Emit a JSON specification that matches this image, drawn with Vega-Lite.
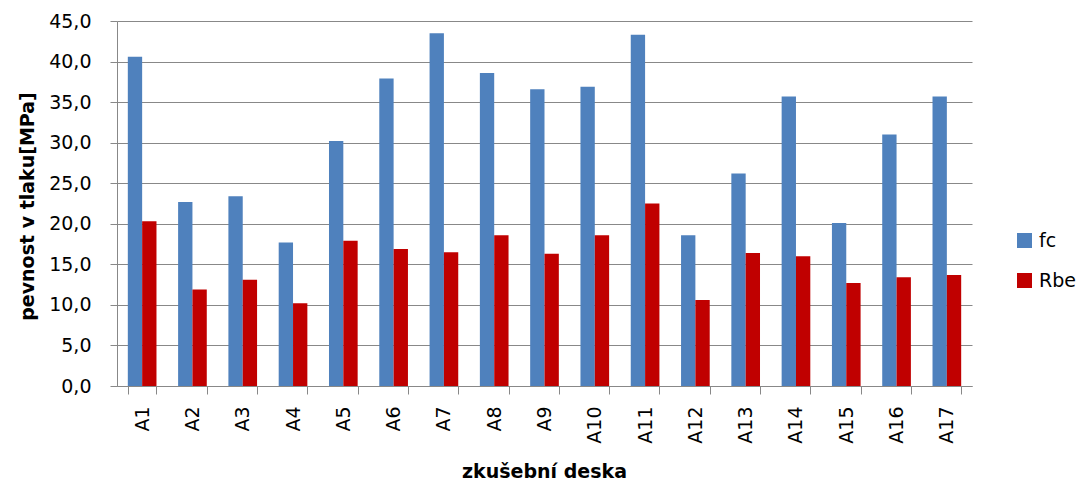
{
  "$schema": "https://vega.github.io/schema/vega-lite/v6.json",
  "width": 855,
  "height": 365,
  "autosize": {"type": "none"},
  "padding": {"left": 117, "top": 21, "right": 113, "bottom": 98},
  "background": "white",
  "config": {
    "view": {"stroke": null},
    "font": "DejaVu Sans"
  },
  "data": {
    "values": [
      {"deska": "A1", "serie": "fc", "hodnota": 40.6},
      {"deska": "A1", "serie": "Rbe", "hodnota": 20.3},
      {"deska": "A2", "serie": "fc", "hodnota": 22.7},
      {"deska": "A2", "serie": "Rbe", "hodnota": 11.9},
      {"deska": "A3", "serie": "fc", "hodnota": 23.4},
      {"deska": "A3", "serie": "Rbe", "hodnota": 13.1},
      {"deska": "A4", "serie": "fc", "hodnota": 17.7},
      {"deska": "A4", "serie": "Rbe", "hodnota": 10.2},
      {"deska": "A5", "serie": "fc", "hodnota": 30.2},
      {"deska": "A5", "serie": "Rbe", "hodnota": 17.9},
      {"deska": "A6", "serie": "fc", "hodnota": 37.9},
      {"deska": "A6", "serie": "Rbe", "hodnota": 16.9},
      {"deska": "A7", "serie": "fc", "hodnota": 43.5},
      {"deska": "A7", "serie": "Rbe", "hodnota": 16.5},
      {"deska": "A8", "serie": "fc", "hodnota": 38.6},
      {"deska": "A8", "serie": "Rbe", "hodnota": 18.6},
      {"deska": "A9", "serie": "fc", "hodnota": 36.6},
      {"deska": "A9", "serie": "Rbe", "hodnota": 16.3},
      {"deska": "A10", "serie": "fc", "hodnota": 36.9},
      {"deska": "A10", "serie": "Rbe", "hodnota": 18.6},
      {"deska": "A11", "serie": "fc", "hodnota": 43.3},
      {"deska": "A11", "serie": "Rbe", "hodnota": 22.5},
      {"deska": "A12", "serie": "fc", "hodnota": 18.6},
      {"deska": "A12", "serie": "Rbe", "hodnota": 10.6},
      {"deska": "A13", "serie": "fc", "hodnota": 26.2},
      {"deska": "A13", "serie": "Rbe", "hodnota": 16.4},
      {"deska": "A14", "serie": "fc", "hodnota": 35.7},
      {"deska": "A14", "serie": "Rbe", "hodnota": 16.0},
      {"deska": "A15", "serie": "fc", "hodnota": 20.1},
      {"deska": "A15", "serie": "Rbe", "hodnota": 12.7},
      {"deska": "A16", "serie": "fc", "hodnota": 31.0},
      {"deska": "A16", "serie": "Rbe", "hodnota": 13.4},
      {"deska": "A17", "serie": "fc", "hodnota": 35.7},
      {"deska": "A17", "serie": "Rbe", "hodnota": 13.7}
    ]
  },
  "mark": {"type": "bar"},
  "encoding": {
    "x": {
      "field": "deska",
      "type": "nominal",
      "sort": null,
      "scale": {"paddingInner": 0.43, "paddingOuter": 0.215},
      "axis": {
        "title": "zkušební deska",
        "titleFont": "DejaVu Sans",
        "titleFontSize": 19,
        "titleFontWeight": "bold",
        "titleColor": "black",
        "titleX": 427,
        "titleY": 91,
        "titleBaseline": "alphabetic",
        "labelAngle": -90,
        "labelFontSize": 19,
        "labelColor": "black",
        "labelPadding": 12,
        "tickBand": "extent",
        "tickSize": 8,
        "tickColor": "#888888",
        "domainColor": "#888888",
        "grid": false
      }
    },
    "xOffset": {
      "field": "serie",
      "type": "nominal",
      "sort": ["fc", "Rbe"],
      "scale": {"paddingInner": 0, "paddingOuter": 0}
    },
    "y": {
      "field": "hodnota",
      "type": "quantitative",
      "scale": {"domain": [0, 45], "nice": false},
      "axis": {
        "title": "pevnost v tlaku[MPa]",
        "titleFontSize": 19,
        "titleFontWeight": "bold",
        "titleColor": "black",
        "titleX": -90,
        "titleY": 185,
        "titleAlign": "center",
        "titleBaseline": "middle",
        "titleAngle": -90,
        "values": [0, 5, 10, 15, 20, 25, 30, 35, 40, 45],
        "labelExpr": "replace(format(datum.value, '.1f'), '.', ',')",
        "labelFontSize": 19,
        "labelColor": "black",
        "labelPadding": 19,
        "tickSize": 7,
        "tickColor": "#888888",
        "domainColor": "#888888",
        "gridColor": "#888888",
        "gridWidth": 1,
        "grid": true
      }
    },
    "color": {
      "field": "serie",
      "type": "nominal",
      "sort": ["fc", "Rbe"],
      "scale": {"domain": ["fc", "Rbe"], "range": ["#4F81BD", "#C00000"]},
      "legend": {
        "title": null,
        "orient": "none",
        "legendX": 898,
        "legendY": 210,
        "symbolType": "square",
        "symbolSize": 225,
        "symbolStrokeWidth": 0,
        "labelFontSize": 19,
        "labelColor": "black",
        "labelOffset": 5,
        "rowPadding": 20,
        "padding": 0
      }
    }
  }
}
